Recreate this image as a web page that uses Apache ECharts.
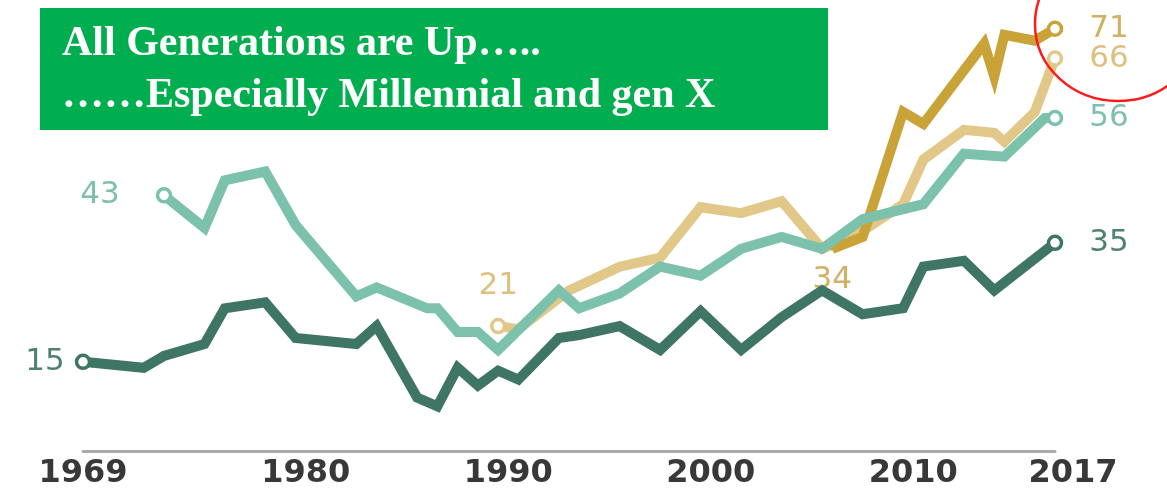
<!DOCTYPE html>
<html>
<head>
<meta charset="utf-8">
<script src="https://cdn.jsdelivr.net/npm/echarts@6/dist/echarts.min.js"></script>
<style>
  html, body { margin: 0; padding: 0; background: #fff; }
  #main { width: 1167px; height: 490px; }
</style>
</head>
<body>
<div id="main"></div>
<script>
// values (share, %), x = year
var silentYears  = [1969, 1972, 1973, 1975, 1976, 1978, 1979.5, 1982.5, 1983.5, 1985.5, 1986.5, 1987.5, 1988.5, 1989.5, 1990.5, 1992.5, 1993.5, 1995.5, 1997.5, 1999.5, 2001.5, 2003.5, 2005.5, 2007.5, 2009.5, 2010.5, 2012.5, 2014, 2017];
var silentValues = [15, 14, 16, 18, 24, 25, 19, 18, 21, 9, 7.5, 14, 11, 13.5, 12, 19, 19.5, 21, 17, 23.5, 17, 22.5, 27, 23, 24, 31, 32, 27, 35];

var boomerYears  = [1973, 1975, 1976, 1978, 1979.5, 1982.5, 1983.5, 1986, 1986.5, 1987.5, 1988.5, 1989.5, 1992.5, 1993.5, 1995.5, 1997.5, 1999.5, 2001.5, 2003.5, 2005.5, 2007.5, 2010.5, 2012.5, 2014.5, 2016.5, 2017];
var boomerValues = [43, 37.5, 45.5, 47, 38, 26, 27.5, 24, 24, 20, 20, 17, 27, 24, 26.5, 31, 29.5, 34, 36, 34, 39, 41.5, 50, 49.5, 56, 56];

var genxYears  = [1989.5, 1990.5, 1993, 1995.5, 1997.5, 1999.5, 2001.5, 2003.5, 2005.5, 2007.5, 2009.5, 2010.5, 2012.5, 2014, 2014.5, 2016, 2017];
var genxValues = [21, 20.5, 27, 31, 32.5, 41, 40, 42, 34, 37, 41.5, 49, 54, 53.5, 52, 57, 66];

var millYears  = [2006, 2007.5, 2009.5, 2010.5, 2013.5, 2014, 2014.5, 2016, 2017];
var millValues = [34, 36, 57, 55, 68.5, 63, 70, 69, 71];

var tickYears = [1969, 1980, 1990, 2000, 2010, 2017];

var titleLines = ['All Generations are Up\u2026..', '\u2026\u2026Especially Millennial and gen X'];

function makeData(years, values, lineColor, textColor, startLbl, endLbl, startDot) {
    var data = [];
    for (var i = 0; i < years.length; i++) {
        var item = { value: [years[i], values[i]], symbol: 'none' };
        var first = i === 0, last = i === years.length - 1;
        var lbl = first ? startLbl : (last ? endLbl : null);
        if ((first && startDot) || last) {
            item.symbol = 'circle';
            item.symbolSize = 13;
            item.itemStyle = { color: '#fff', borderColor: lineColor, borderWidth: 3.5 };
        } else if (lbl) {
            // no ring here, just a dot hidden in the line so the label still shows
            item.symbol = 'circle';
            item.symbolSize = 4;
            item.itemStyle = { color: lineColor, borderWidth: 0 };
        }
        if (lbl) {
            item.label = {
                show: true,
                position: lbl.position,
                distance: lbl.distance,
                formatter: String(values[i]),
                color: textColor,
                fontFamily: 'DejaVu Sans',
                fontSize: 31
            };
        }
        data.push(item);
    }
    return data;
}

function lineSeries(name, data, color, z) {
    return {
        name: name,
        type: 'line',
        data: data,
        z: z,
        lineStyle: { color: color, width: 10, join: 'miter' },
        itemStyle: { color: color },
        emphasis: { disabled: true },
        animation: false
    };
}

var cSilent = '#3e7564', cBoomer = '#7cc1ac', cGenx = '#e2c888', cMill = '#c9a238';

var mychart = echarts.init(document.getElementById('main'));
var option = {
    grid: { left: 83, right: 112, top: 5, bottom: 38 },
    xAxis: {
        type: 'value',
        min: 1969,
        max: 2017,
        splitLine: { show: false },
        axisTick: { show: false },
        axisLine: { show: true, lineStyle: { color: '#aaaaaa', width: 3 } },
        axisLabel: {
            customValues: tickYears,
            margin: 7,
            color: '#383838',
            fontFamily: 'DejaVu Sans',
            fontWeight: 'bold',
            fontSize: 32,
            formatter: function (v) {
                return v === 2017 ? '{e|' + v + '}' : String(v);
            },
            rich: {
                e: { padding: [0, 0, 0, 36], color: '#383838', fontFamily: 'DejaVu Sans', fontWeight: 'bold', fontSize: 32 }
            }
        }
    },
    yAxis: {
        type: 'value',
        min: 0,
        max: 75,
        show: false,
        splitLine: { show: false }
    },
    series: [
        lineSeries('Gen X', makeData(genxYears, genxValues, cGenx, '#dcc07e',
            { position: 'top', distance: 16 }, { position: 'right', distance: 26 }, true), cGenx, 2),
        lineSeries('Millennials', makeData(millYears, millValues, cMill, '#d2b061',
            { position: 'bottom', distance: 14 }, { position: 'right', distance: 26 }, false), cMill, 3),
        lineSeries('Boomers', makeData(boomerYears, boomerValues, cBoomer, '#80bfac',
            { position: 'left', distance: 36 }, { position: 'right', distance: 26 }, true), cBoomer, 4),
        lineSeries('Silent', makeData(silentYears, silentValues, cSilent, '#4f8070',
            { position: 'left', distance: 10 }, { position: 'right', distance: 26 }, true), cSilent, 5)
    ],
    graphic: [
        {
            type: 'rect',
            left: 40, top: 8,
            shape: { width: 788, height: 122 },
            style: { fill: '#00ae4f' },
            z: 100
        },
        {
            type: 'text',
            x: 62, y: 44,
            style: { text: titleLines[0], fill: '#fff', font: 'bold 42px "Liberation Serif"', verticalAlign: 'middle' },
            z: 101
        },
        {
            type: 'text',
            x: 62, y: 96,
            style: { text: titleLines[1], fill: '#fff', font: 'bold 42px "Liberation Serif"', verticalAlign: 'middle' },
            z: 101
        },
        {
            type: 'ellipse',
            shape: { cx: 1118, cy: 24, rx: 83, ry: 77 },
            style: { fill: 'none', stroke: '#ff1a1a', lineWidth: 2.5 },
            z: 102
        }
    ]
};
mychart.setOption(option);
</script>
</body>
</html>
